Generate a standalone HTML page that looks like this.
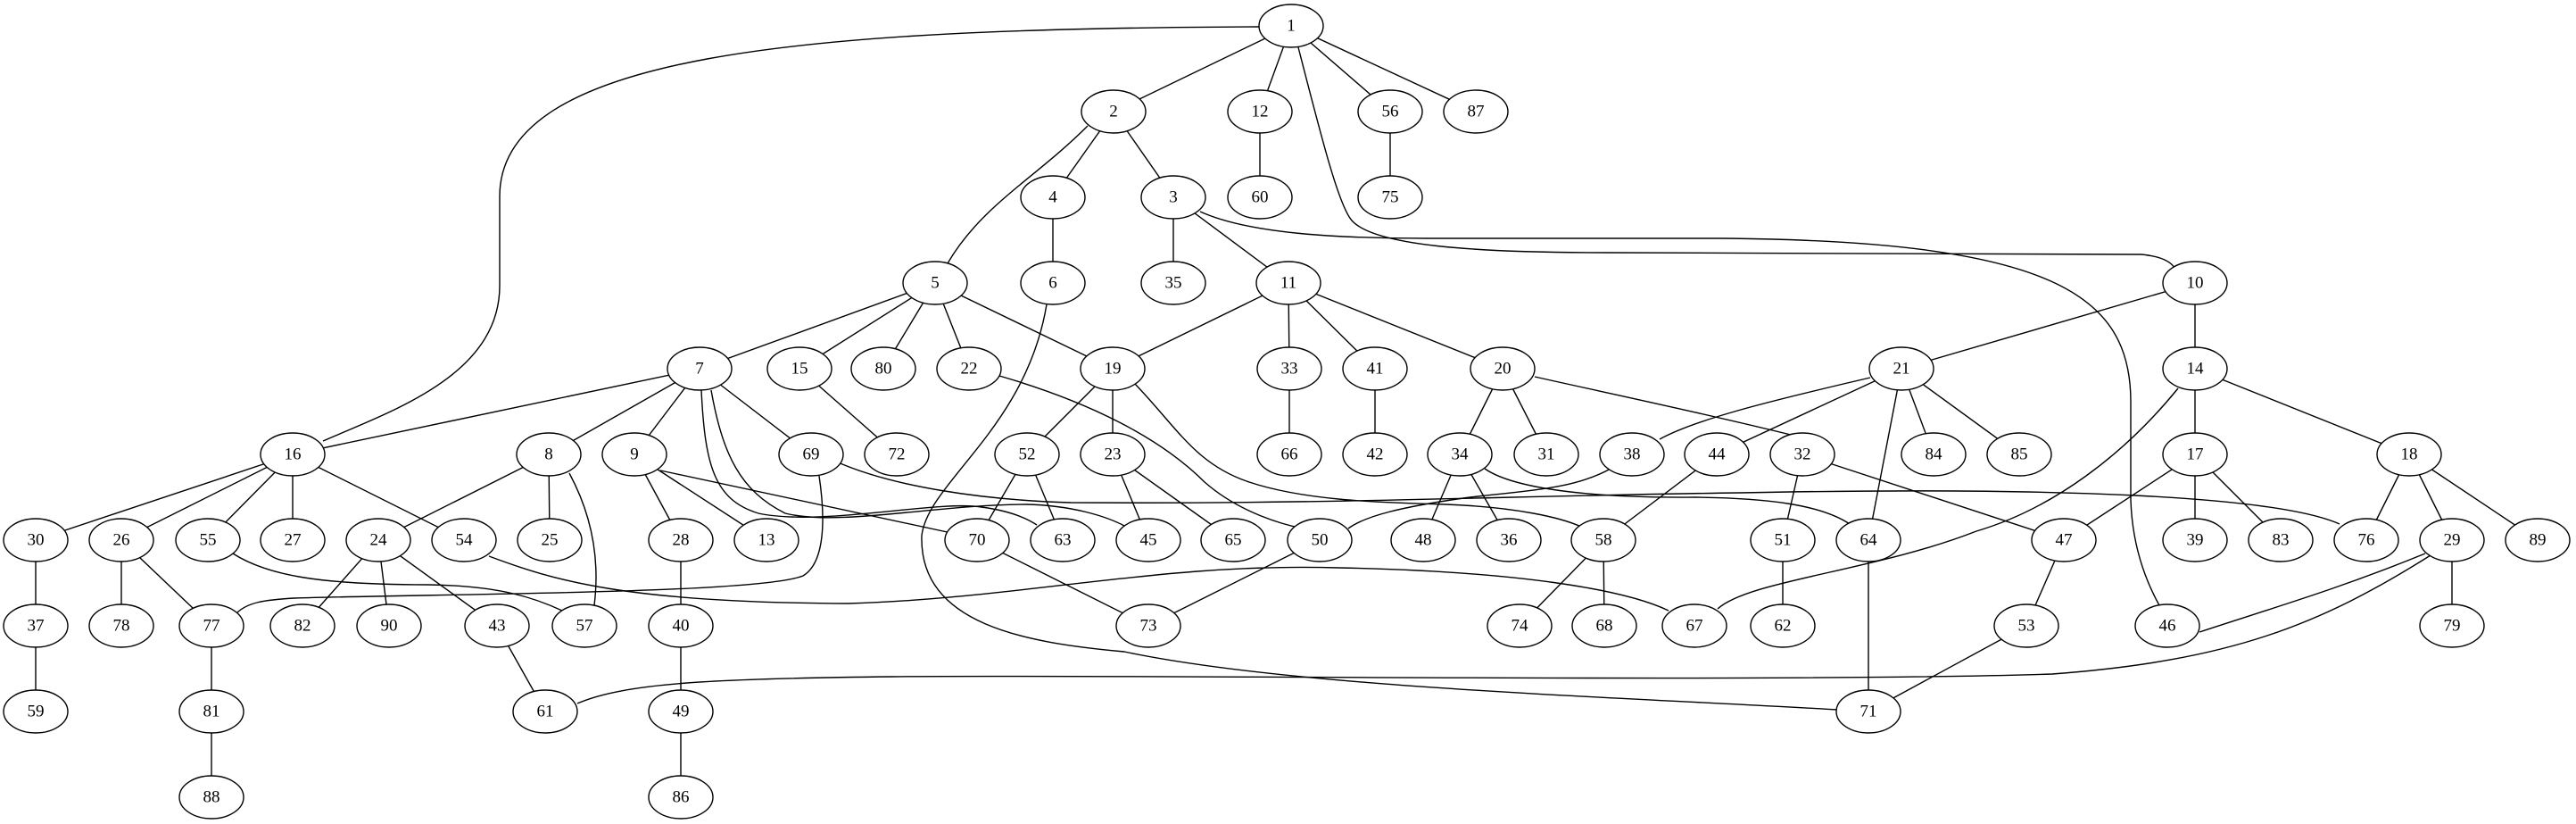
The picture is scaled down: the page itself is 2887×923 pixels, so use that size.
<!DOCTYPE html>
<html><head><meta charset="utf-8"><style>
html,body{margin:0;padding:0;background:#fff;}
svg{display:block;}
text{font-family:"Liberation Serif",serif;font-size:19px;fill:#000;}
</style></head><body>
<svg width="2887" height="923" viewBox="0 0 2887 923" xmlns="http://www.w3.org/2000/svg">
<g stroke="#000" stroke-width="1.4" fill="none">
<line x1="1447" y1="29" x2="1248" y2="125"/>
<line x1="1447" y1="29" x2="1412" y2="125"/>
<line x1="1447" y1="29" x2="1558" y2="125"/>
<line x1="1447" y1="29" x2="1654" y2="125"/>
<path d="M1411,30 C900,32 560,60 560,220 L560,320 C560,420 440,460 362,494"/>
<path d="M1455,53 C1480,150 1500,230 1515,247 C1540,275 1650,283 1800,283 L2400,285 C2420,287 2432,292 2437,300"/>
<path d="M1345,237 C1400,262 1500,267 1600,267 L1930,267 C2300,270 2388,330 2388,450 L2388,560 C2390,620 2410,660 2420,678"/>
<line x1="1248" y1="125" x2="1180" y2="221"/>
<line x1="1248" y1="125" x2="1315" y2="221"/>
<path d="M1219,141 C1160,200 1100,230 1062,295"/>
<line x1="1412" y1="125" x2="1412" y2="221"/>
<line x1="1558" y1="125" x2="1558" y2="221"/>
<line x1="1180" y1="221" x2="1180" y2="317"/>
<line x1="1315" y1="221" x2="1315" y2="317"/>
<line x1="1315" y1="221" x2="1444" y2="317"/>
<line x1="1048" y1="317" x2="784" y2="413"/>
<line x1="1048" y1="317" x2="896" y2="413"/>
<line x1="1048" y1="317" x2="990" y2="413"/>
<line x1="1048" y1="317" x2="1086" y2="413"/>
<line x1="1048" y1="317" x2="1247" y2="413"/>
<path d="M1173,341 C1150,480 1040,540 1033,600 C1030,700 1150,720 1260,730 C1450,770 1800,780 2060,795"/>
<line x1="1444" y1="317" x2="1247" y2="413"/>
<line x1="1444" y1="317" x2="1445" y2="413"/>
<line x1="1444" y1="317" x2="1541" y2="413"/>
<line x1="1444" y1="317" x2="1684" y2="413"/>
<line x1="2460" y1="317" x2="2131" y2="413"/>
<line x1="2460" y1="317" x2="2460" y2="413"/>
<line x1="784" y1="413" x2="328" y2="509"/>
<line x1="784" y1="413" x2="615" y2="509"/>
<line x1="784" y1="413" x2="711" y2="509"/>
<line x1="784" y1="413" x2="909" y2="509"/>
<path d="M786,437 C790,520 800,560 850,575 C920,590 1050,560 1100,568 C1130,572 1150,580 1162,588"/>
<path d="M797,437 C810,510 830,550 880,575 C940,590 1050,565 1150,565 C1200,566 1240,578 1262,590"/>
<line x1="896" y1="413" x2="1005" y2="509"/>
<path d="M1120,421 C1220,450 1300,490 1350,540 C1390,575 1440,588 1460,592"/>
<line x1="1247" y1="413" x2="1151" y2="509"/>
<line x1="1247" y1="413" x2="1247" y2="509"/>
<path d="M1272,430 C1320,480 1340,520 1400,540 C1460,560 1540,563 1620,565 C1700,568 1750,580 1772,590"/>
<line x1="1445" y1="413" x2="1445" y2="509"/>
<line x1="1541" y1="413" x2="1541" y2="509"/>
<line x1="1684" y1="413" x2="1636" y2="509"/>
<line x1="1684" y1="413" x2="1733" y2="509"/>
<path d="M1720,422 C1800,440 1920,465 2019,490"/>
<path d="M2096,423 C1980,450 1900,470 1860,492"/>
<line x1="2131" y1="413" x2="1924" y2="509"/>
<line x1="2131" y1="413" x2="2094" y2="605"/>
<line x1="2131" y1="413" x2="2167" y2="509"/>
<line x1="2131" y1="413" x2="2263" y2="509"/>
<line x1="2460" y1="413" x2="2460" y2="509"/>
<line x1="2460" y1="413" x2="2700" y2="509"/>
<path d="M2441,435 C2380,510 2300,570 2215,595 C2100,640 1960,650 1925,682"/>
<line x1="328" y1="509" x2="40" y2="605"/>
<line x1="328" y1="509" x2="136" y2="605"/>
<line x1="328" y1="509" x2="233" y2="605"/>
<line x1="328" y1="509" x2="328" y2="605"/>
<line x1="328" y1="509" x2="520" y2="605"/>
<line x1="615" y1="509" x2="424" y2="605"/>
<line x1="615" y1="509" x2="616" y2="605"/>
<path d="M638,530 C665,580 672,630 666,678"/>
<line x1="711" y1="509" x2="763" y2="605"/>
<line x1="711" y1="509" x2="859" y2="605"/>
<line x1="740" y1="527" x2="1071" y2="598"/>
<path d="M918,533 C925,580 925,630 900,645 C850,665 500,665 330,670 C295,672 278,675 266,686"/>
<path d="M937,517 C1000,545 1100,560 1200,563 C1500,565 1700,555 1950,552 C2300,545 2550,555 2622,587"/>
<line x1="1151" y1="509" x2="1095" y2="605"/>
<line x1="1151" y1="509" x2="1191" y2="605"/>
<line x1="1247" y1="509" x2="1287" y2="605"/>
<line x1="1247" y1="509" x2="1382" y2="605"/>
<line x1="1636" y1="509" x2="1595" y2="605"/>
<line x1="1636" y1="509" x2="1691" y2="605"/>
<path d="M1664,525 C1700,550 1800,558 1900,557 C1980,558 2040,565 2073,587"/>
<path d="M1805,525 C1760,550 1700,550 1640,558 C1570,568 1530,578 1511,592"/>
<line x1="1924" y1="509" x2="1797" y2="605"/>
<line x1="2020" y1="509" x2="1998" y2="605"/>
<line x1="2020" y1="509" x2="2313" y2="605"/>
<line x1="2460" y1="509" x2="2313" y2="605"/>
<line x1="2460" y1="509" x2="2460" y2="605"/>
<line x1="2460" y1="509" x2="2556" y2="605"/>
<line x1="2700" y1="509" x2="2652" y2="605"/>
<line x1="2700" y1="509" x2="2748" y2="605"/>
<line x1="2700" y1="509" x2="2844" y2="605"/>
<line x1="40" y1="605" x2="40" y2="701"/>
<line x1="136" y1="605" x2="136" y2="701"/>
<line x1="136" y1="605" x2="237" y2="701"/>
<path d="M261,620 C300,645 360,655 480,655 C560,656 600,670 630,684"/>
<line x1="424" y1="605" x2="339" y2="701"/>
<line x1="424" y1="605" x2="436" y2="701"/>
<line x1="424" y1="605" x2="557" y2="701"/>
<path d="M548,623 C620,650 700,675 950,676 C1150,670 1300,630 1500,636 C1700,640 1820,660 1870,684"/>
<line x1="763" y1="605" x2="763" y2="701"/>
<line x1="1095" y1="605" x2="1287" y2="701"/>
<line x1="1479" y1="605" x2="1287" y2="701"/>
<line x1="1797" y1="605" x2="1703" y2="701"/>
<line x1="1797" y1="605" x2="1798" y2="701"/>
<line x1="1998" y1="605" x2="1998" y2="701"/>
<line x1="2094" y1="605" x2="2094" y2="797"/>
<line x1="2313" y1="605" x2="2271" y2="701"/>
<path d="M2718,620 C2620,660 2550,680 2465,708"/>
<line x1="2748" y1="605" x2="2748" y2="701"/>
<path d="M2724,622 C2600,700 2500,740 2300,755 C2000,765 1200,755 1000,758 C800,760 700,765 647,788"/>
<line x1="40" y1="701" x2="40" y2="797"/>
<line x1="237" y1="701" x2="237" y2="797"/>
<line x1="557" y1="701" x2="611" y2="797"/>
<line x1="763" y1="701" x2="763" y2="797"/>
<line x1="2271" y1="701" x2="2094" y2="797"/>
<line x1="237" y1="797" x2="237" y2="893"/>
<line x1="763" y1="797" x2="763" y2="893"/>
</g>
<g stroke="#000" stroke-width="1.4" fill="#fff">
<ellipse cx="1447" cy="29" rx="36" ry="24"/>
<ellipse cx="1248" cy="125" rx="36" ry="24"/><ellipse cx="1412" cy="125" rx="36" ry="24"/><ellipse cx="1558" cy="125" rx="36" ry="24"/><ellipse cx="1654" cy="125" rx="36" ry="24"/>
<ellipse cx="1180" cy="221" rx="36" ry="24"/><ellipse cx="1315" cy="221" rx="36" ry="24"/><ellipse cx="1412" cy="221" rx="36" ry="24"/><ellipse cx="1558" cy="221" rx="36" ry="24"/>
<ellipse cx="1048" cy="317" rx="36" ry="24"/><ellipse cx="1180" cy="317" rx="36" ry="24"/><ellipse cx="1315" cy="317" rx="36" ry="24"/><ellipse cx="1444" cy="317" rx="36" ry="24"/><ellipse cx="2460" cy="317" rx="36" ry="24"/>
<ellipse cx="784" cy="413" rx="36" ry="24"/><ellipse cx="896" cy="413" rx="36" ry="24"/><ellipse cx="990" cy="413" rx="36" ry="24"/><ellipse cx="1086" cy="413" rx="36" ry="24"/><ellipse cx="1247" cy="413" rx="36" ry="24"/><ellipse cx="1445" cy="413" rx="36" ry="24"/><ellipse cx="1541" cy="413" rx="36" ry="24"/><ellipse cx="1684" cy="413" rx="36" ry="24"/><ellipse cx="2131" cy="413" rx="36" ry="24"/><ellipse cx="2460" cy="413" rx="36" ry="24"/>
<ellipse cx="328" cy="509" rx="36" ry="24"/><ellipse cx="615" cy="509" rx="36" ry="24"/><ellipse cx="711" cy="509" rx="36" ry="24"/><ellipse cx="909" cy="509" rx="36" ry="24"/><ellipse cx="1005" cy="509" rx="36" ry="24"/><ellipse cx="1151" cy="509" rx="36" ry="24"/><ellipse cx="1247" cy="509" rx="36" ry="24"/><ellipse cx="1445" cy="509" rx="36" ry="24"/><ellipse cx="1541" cy="509" rx="36" ry="24"/><ellipse cx="1636" cy="509" rx="36" ry="24"/><ellipse cx="1733" cy="509" rx="36" ry="24"/><ellipse cx="1829" cy="509" rx="36" ry="24"/><ellipse cx="1924" cy="509" rx="36" ry="24"/><ellipse cx="2020" cy="509" rx="36" ry="24"/><ellipse cx="2167" cy="509" rx="36" ry="24"/><ellipse cx="2263" cy="509" rx="36" ry="24"/><ellipse cx="2460" cy="509" rx="36" ry="24"/><ellipse cx="2700" cy="509" rx="36" ry="24"/>
<ellipse cx="40" cy="605" rx="36" ry="24"/><ellipse cx="136" cy="605" rx="36" ry="24"/><ellipse cx="233" cy="605" rx="36" ry="24"/><ellipse cx="328" cy="605" rx="36" ry="24"/><ellipse cx="424" cy="605" rx="36" ry="24"/><ellipse cx="520" cy="605" rx="36" ry="24"/><ellipse cx="616" cy="605" rx="36" ry="24"/><ellipse cx="763" cy="605" rx="36" ry="24"/><ellipse cx="859" cy="605" rx="36" ry="24"/><ellipse cx="1095" cy="605" rx="36" ry="24"/><ellipse cx="1191" cy="605" rx="36" ry="24"/><ellipse cx="1287" cy="605" rx="36" ry="24"/><ellipse cx="1382" cy="605" rx="36" ry="24"/><ellipse cx="1479" cy="605" rx="36" ry="24"/><ellipse cx="1595" cy="605" rx="36" ry="24"/><ellipse cx="1691" cy="605" rx="36" ry="24"/><ellipse cx="1797" cy="605" rx="36" ry="24"/><ellipse cx="1998" cy="605" rx="36" ry="24"/><ellipse cx="2094" cy="605" rx="36" ry="24"/><ellipse cx="2313" cy="605" rx="36" ry="24"/><ellipse cx="2460" cy="605" rx="36" ry="24"/><ellipse cx="2556" cy="605" rx="36" ry="24"/><ellipse cx="2652" cy="605" rx="36" ry="24"/><ellipse cx="2748" cy="605" rx="36" ry="24"/><ellipse cx="2844" cy="605" rx="36" ry="24"/>
<ellipse cx="40" cy="701" rx="36" ry="24"/><ellipse cx="136" cy="701" rx="36" ry="24"/><ellipse cx="237" cy="701" rx="36" ry="24"/><ellipse cx="339" cy="701" rx="36" ry="24"/><ellipse cx="436" cy="701" rx="36" ry="24"/><ellipse cx="557" cy="701" rx="36" ry="24"/><ellipse cx="655" cy="701" rx="36" ry="24"/><ellipse cx="763" cy="701" rx="36" ry="24"/><ellipse cx="1287" cy="701" rx="36" ry="24"/><ellipse cx="1703" cy="701" rx="36" ry="24"/><ellipse cx="1798" cy="701" rx="36" ry="24"/><ellipse cx="1899" cy="701" rx="36" ry="24"/><ellipse cx="1998" cy="701" rx="36" ry="24"/><ellipse cx="2271" cy="701" rx="36" ry="24"/><ellipse cx="2429" cy="701" rx="36" ry="24"/><ellipse cx="2748" cy="701" rx="36" ry="24"/>
<ellipse cx="40" cy="797" rx="36" ry="24"/><ellipse cx="237" cy="797" rx="36" ry="24"/><ellipse cx="611" cy="797" rx="36" ry="24"/><ellipse cx="763" cy="797" rx="36" ry="24"/><ellipse cx="2094" cy="797" rx="36" ry="24"/>
<ellipse cx="237" cy="893" rx="36" ry="24"/><ellipse cx="763" cy="893" rx="36" ry="24"/>
</g>
<g text-anchor="middle" dominant-baseline="central">
<text x="1447" y="29">1</text>
<text x="1248" y="125">2</text><text x="1412" y="125">12</text><text x="1558" y="125">56</text><text x="1654" y="125">87</text>
<text x="1180" y="221">4</text><text x="1315" y="221">3</text><text x="1412" y="221">60</text><text x="1558" y="221">75</text>
<text x="1048" y="317">5</text><text x="1180" y="317">6</text><text x="1315" y="317">35</text><text x="1444" y="317">11</text><text x="2460" y="317">10</text>
<text x="784" y="413">7</text><text x="896" y="413">15</text><text x="990" y="413">80</text><text x="1086" y="413">22</text><text x="1247" y="413">19</text><text x="1445" y="413">33</text><text x="1541" y="413">41</text><text x="1684" y="413">20</text><text x="2131" y="413">21</text><text x="2460" y="413">14</text>
<text x="328" y="509">16</text><text x="615" y="509">8</text><text x="711" y="509">9</text><text x="909" y="509">69</text><text x="1005" y="509">72</text><text x="1151" y="509">52</text><text x="1247" y="509">23</text><text x="1445" y="509">66</text><text x="1541" y="509">42</text><text x="1636" y="509">34</text><text x="1733" y="509">31</text><text x="1829" y="509">38</text><text x="1924" y="509">44</text><text x="2020" y="509">32</text><text x="2167" y="509">84</text><text x="2263" y="509">85</text><text x="2460" y="509">17</text><text x="2700" y="509">18</text>
<text x="40" y="605">30</text><text x="136" y="605">26</text><text x="233" y="605">55</text><text x="328" y="605">27</text><text x="424" y="605">24</text><text x="520" y="605">54</text><text x="616" y="605">25</text><text x="763" y="605">28</text><text x="859" y="605">13</text><text x="1095" y="605">70</text><text x="1191" y="605">63</text><text x="1287" y="605">45</text><text x="1382" y="605">65</text><text x="1479" y="605">50</text><text x="1595" y="605">48</text><text x="1691" y="605">36</text><text x="1797" y="605">58</text><text x="1998" y="605">51</text><text x="2094" y="605">64</text><text x="2313" y="605">47</text><text x="2460" y="605">39</text><text x="2556" y="605">83</text><text x="2652" y="605">76</text><text x="2748" y="605">29</text><text x="2844" y="605">89</text>
<text x="40" y="701">37</text><text x="136" y="701">78</text><text x="237" y="701">77</text><text x="339" y="701">82</text><text x="436" y="701">90</text><text x="557" y="701">43</text><text x="655" y="701">57</text><text x="763" y="701">40</text><text x="1287" y="701">73</text><text x="1703" y="701">74</text><text x="1798" y="701">68</text><text x="1899" y="701">67</text><text x="1998" y="701">62</text><text x="2271" y="701">53</text><text x="2429" y="701">46</text><text x="2748" y="701">79</text>
<text x="40" y="797">59</text><text x="237" y="797">81</text><text x="611" y="797">61</text><text x="763" y="797">49</text><text x="2094" y="797">71</text>
<text x="237" y="893">88</text><text x="763" y="893">86</text>
</g>
</svg>
</body></html>
